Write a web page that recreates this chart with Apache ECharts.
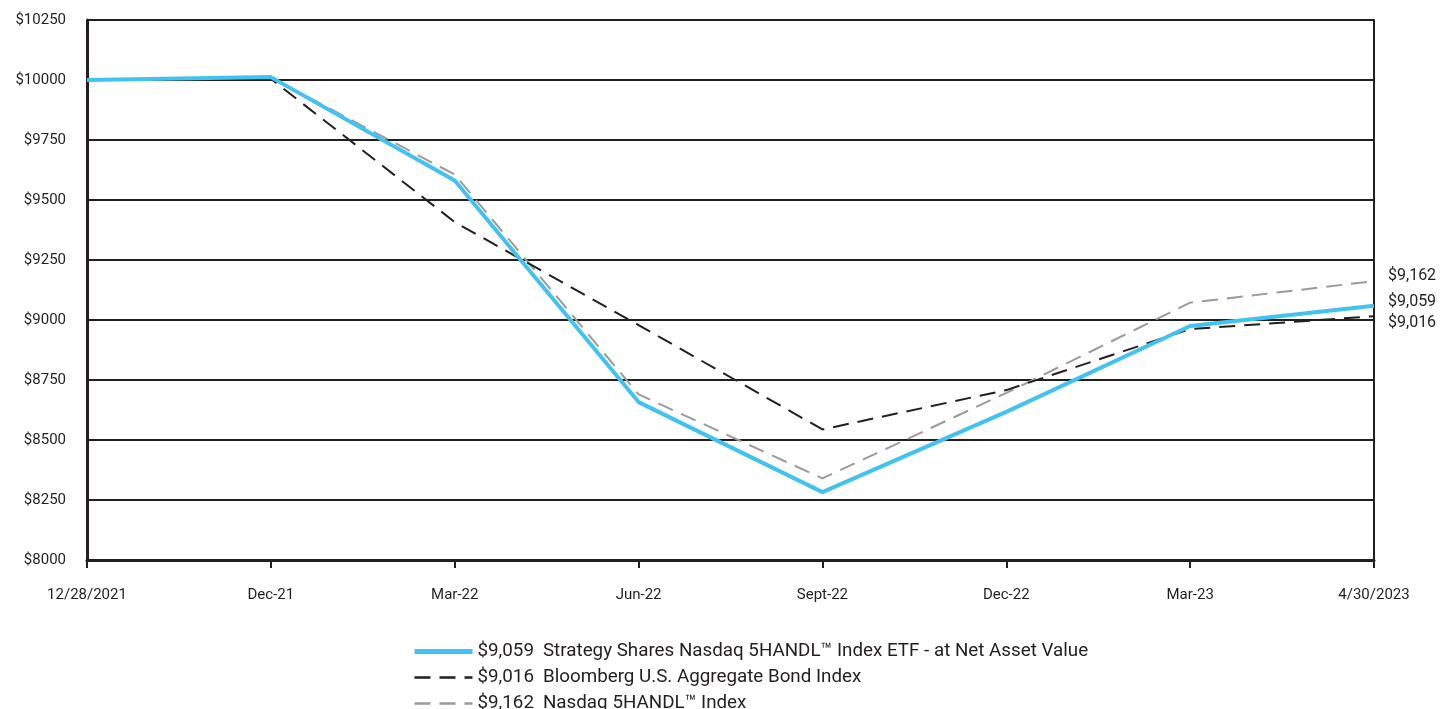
<!DOCTYPE html>
<html>
<head>
<meta charset="utf-8">
<script src="https://cdn.jsdelivr.net/npm/echarts@6/dist/echarts.min.js"></script>
<style>
  html, body { margin: 0; padding: 0; background: #fff; }
  #chart { width: 1440px; height: 709px; }
</style>
</head>
<body>
<div id="chart"></div>
<script>
const categories = ['12/28/2021', 'Dec-21', 'Mar-22', 'Jun-22', 'Sept-22', 'Dec-22', 'Mar-23', '4/30/2023']

// values
const fundValues = [10000, 10012, 9581, 8658, 8283, 8617, 8975, 9059]
const bondValues = [10000, 10005, 9408, 8979, 8544, 8708, 8962, 9016]
const indexValues = [10000, 10010, 9606, 8690, 8340, 8696, 9072, 9162]

const fundName = 'Strategy Shares Nasdaq 5HANDL\u2122 Index ETF - at Net Asset Value'
const bondName = 'Bloomberg U.S. Aggregate Bond Index'
const indexName = 'Nasdaq 5HANDL\u2122 Index'

const endValues = {}
endValues[fundName] = '$9,059'
endValues[bondName] = '$9,016'
endValues[indexName] = '$9,162'

const font = 'Roboto, "Noto Sans", sans-serif'
const ink = '#231f20'
const blue = '#42c3ee'

const chart = echarts.init(document.getElementById('chart'))

const endLabel = (dy) => ({
  show: true,
  color: ink,
  fontFamily: font,
  fontSize: 16,
  distance: 14,
  offset: [0, dy],
  formatter: (p) => endValues[p.seriesName]
})

chart.setOption({
  animation: false,
  grid: { left: 87, right: 66, top: 20, bottom: 149 },
  xAxis: {
    type: 'category',
    data: categories,
    boundaryGap: false,
    axisLine: { lineStyle: { color: ink, width: 3 } },
    axisTick: { show: true, length: 8, lineStyle: { color: ink, width: 2 } },
    axisLabel: { color: ink, fontFamily: font, fontSize: 15, margin: 28 },
    splitLine: { show: false }
  },
  yAxis: [
    {
      type: 'value',
      min: 8000,
      max: 10250,
      interval: 250,
      axisLine: { show: true, lineStyle: { color: ink, width: 3 } },
      axisTick: { show: false },
      axisLabel: { color: ink, fontFamily: font, fontSize: 15, margin: 21, formatter: (v) => '$' + v },
      splitLine: { lineStyle: { color: ink, width: 2 } }
    },
    {
      type: 'value',
      position: 'right',
      min: 8000,
      max: 10250,
      interval: 250,
      axisLine: { show: true, lineStyle: { color: ink, width: 2 } },
      axisTick: { show: false },
      axisLabel: { show: false },
      splitLine: { show: false }
    }
  ],
  legend: {
    orient: 'vertical',
    left: 407,
    top: 637,
    height: 120,
    itemWidth: 58,
    itemHeight: 14,
    itemGap: 7,
    itemStyle: { opacity: 0 },
    data: [
      { name: fundName, lineStyle: { width: 5, color: blue } },
      { name: bondName, lineStyle: { width: 2.5 } },
      { name: indexName, lineStyle: { width: 2.5 } }
    ],
    formatter: (name) => '{v|' + endValues[name] + '}{n|' + name + '}',
    textStyle: {
      color: ink,
      fontFamily: font,
      fontSize: 18.8,
      rich: {
        v: { fontSize: 18.8, fontFamily: font, color: ink, lineHeight: 20, padding: [0, 9, 0, 0] },
        n: { fontSize: 18.8, fontFamily: font, color: ink, lineHeight: 20 }
      }
    }
  },
  series: [
    {
      name: indexName,
      type: 'line',
      data: indexValues,
      symbol: 'none',
      lineStyle: { color: '#9b9b9b', width: 2, type: [16, 9] },
      itemStyle: { color: '#9b9b9b' },
      endLabel: endLabel(-5),
      z: 3
    },
    {
      name: bondName,
      type: 'line',
      data: bondValues,
      symbol: 'none',
      lineStyle: { color: ink, width: 2, type: [16, 9] },
      itemStyle: { color: ink },
      endLabel: endLabel(7),
      z: 4
    },
    {
      name: fundName,
      type: 'line',
      data: fundValues,
      symbol: 'none',
      lineStyle: { color: blue, width: 4 },
      itemStyle: { color: blue },
      endLabel: endLabel(-4),
      z: 5
    }
  ]
})
</script>
</body>
</html>
